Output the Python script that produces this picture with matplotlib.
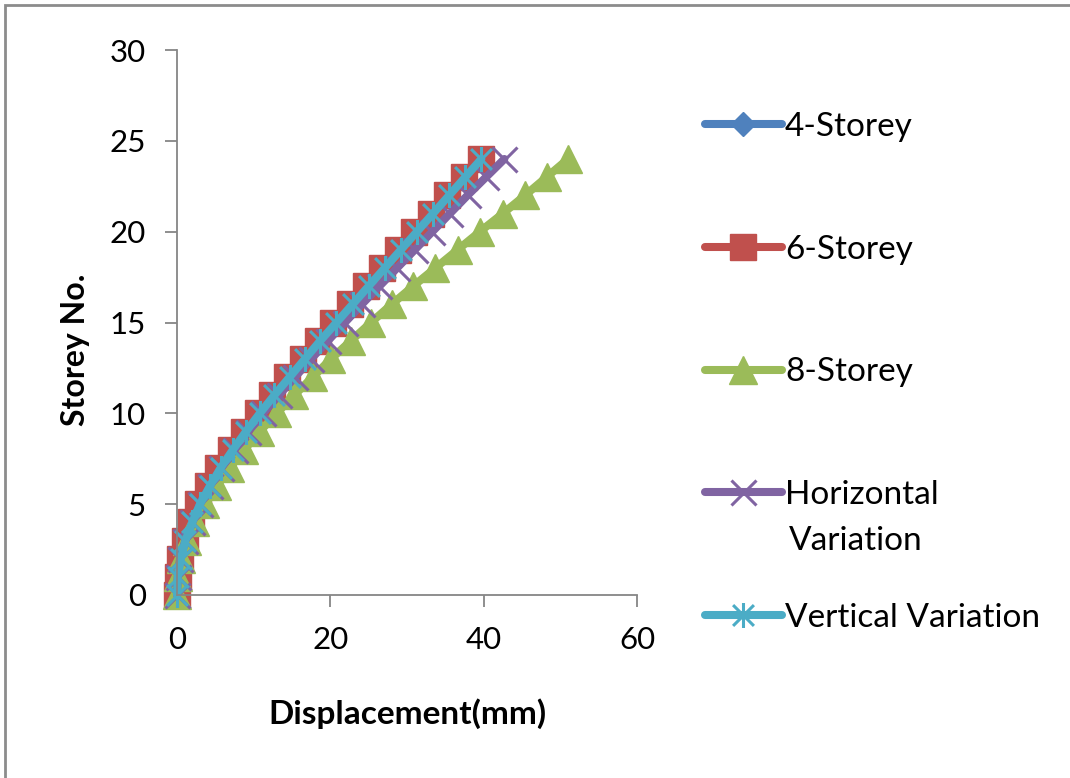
import matplotlib
matplotlib.use("Agg")
import matplotlib.pyplot as plt
from matplotlib.path import Path
from matplotlib.patches import Rectangle
import numpy as np

plt.rcParams['font.family'] = ['Lato', 'DejaVu Sans']

storeys = list(range(0, 25))

disp_4 = [0, 0.1, 0.4, 1.0, 1.8, 2.8, 4.0, 5.4, 7.0, 8.7, 10.5, 12.4, 14.4, 16.4,
          18.4, 20.4, 22.5, 24.6, 26.7, 28.8, 30.9, 33.1, 35.2, 37.4, 39.5]
disp_6 = [0, 0.1, 0.4, 1.0, 1.8, 2.8, 4.0, 5.4, 7.0, 8.7, 10.5, 12.4, 14.4, 16.4,
          18.4, 20.4, 22.5, 24.6, 26.7, 28.8, 30.9, 33.1, 35.2, 37.4, 39.6]
disp_8 = [0, 0.1, 0.5, 1.3, 2.4, 3.7, 5.2, 6.9, 8.8, 10.8, 13.0, 15.3, 17.7, 20.1,
          22.7, 25.3, 28.0, 30.8, 33.7, 36.6, 39.5, 42.5, 45.4, 48.2, 51.0]
disp_h = [0, 0.1, 0.4, 1.1, 2.0, 3.0, 4.3, 5.8, 7.5, 9.3, 11.2, 13.3, 15.4, 17.5,
          19.7, 21.9, 24.1, 26.4, 28.7, 31.0, 33.3, 35.6, 37.9, 40.3, 42.7]
disp_v = [0, 0.1, 0.5, 1.1, 2.0, 3.0, 4.3, 5.7, 7.3, 9.0, 10.8, 12.7, 14.7, 16.7,
          18.7, 20.8, 22.9, 25.0, 27.1, 29.2, 31.3, 33.4, 35.5, 37.6, 39.7]

labels = ['4-Storey', '6-Storey', '8-Storey', 'Horizontal', 'Vertical Variation']
x_ticks = [0, 20, 40, 60]
y_ticks = [0, 5, 10, 15, 20, 25, 30]

colors = ['#4F81BD', '#C0504D', '#9BBB59', '#8064A2', '#4BACC6']

# star marker (vertical line + X)
star = Path([(-0.5, -0.5), (0.5, 0.5), (-0.5, 0.5), (0.5, -0.5), (0, -0.6), (0, 0.6)],
            [Path.MOVETO, Path.LINETO, Path.MOVETO, Path.LINETO, Path.MOVETO, Path.LINETO])

fig = plt.figure(figsize=(10.7, 7.78), dpi=100)
ax = fig.add_axes([177/1070, 1-595/778, 460/1070, 545/778])

series = [disp_4, disp_6, disp_8, disp_h, disp_v]
styles = [dict(marker='D', ms=12),
          dict(marker='s', ms=18.5),
          dict(marker='^', ms=20),
          dict(marker='x', ms=18, mew=2.2),
          dict(marker=star, ms=18, mew=2.2)]
handles = []
for d, c, st, lab in zip(series, colors, styles, labels):
    h, = ax.plot(d, storeys, color=c, lw=5.8, mfc=c, mec=c, clip_on=False,
                 label=lab, solid_capstyle='round', **st)
    handles.append(h)

ax.set_xlim(0, 60)
ax.set_ylim(0, 30)
ax.set_xticks(x_ticks)
ax.set_yticks(y_ticks)
for s in ['top', 'right']:
    ax.spines[s].set_visible(False)
for s in ['left', 'bottom']:
    ax.spines[s].set_color('#868686')
    ax.spines[s].set_linewidth(1.3)
ax.tick_params(axis='both', direction='out', length=8.5, width=1.3, color='#868686',
               labelsize=22.5, labelcolor='black')
ax.tick_params(axis='y', pad=14)
ax.tick_params(axis='x', pad=14)

ax.set_xlabel('Displacement(mm)', fontsize=24, fontweight='bold')
ax.set_ylabel('Storey No.', fontsize=23, fontweight='bold')
ax.xaxis.set_label_coords(0.5, -0.19)
ax.yaxis.set_label_coords(-0.19, 0.45)

leg = fig.legend(handles=handles, labels=labels, loc='upper left',
                 bbox_to_anchor=(705/1070, 1-112/778), frameon=False,
                 fontsize=24, handlelength=2.3, handletextpad=0.1,
                 labelspacing=2.78, borderpad=0, borderaxespad=0)
fig.text(789/1070, 1-541/778, 'Variation', fontsize=24, va='center', ha='left')

fig.add_artist(Rectangle((5/1070, -0.1), 1.2, 1.1 - 5/778, transform=fig.transFigure,
                         fill=False, edgecolor='#8c8c8c', lw=2))

fig.savefig('out.png', dpi=100)
